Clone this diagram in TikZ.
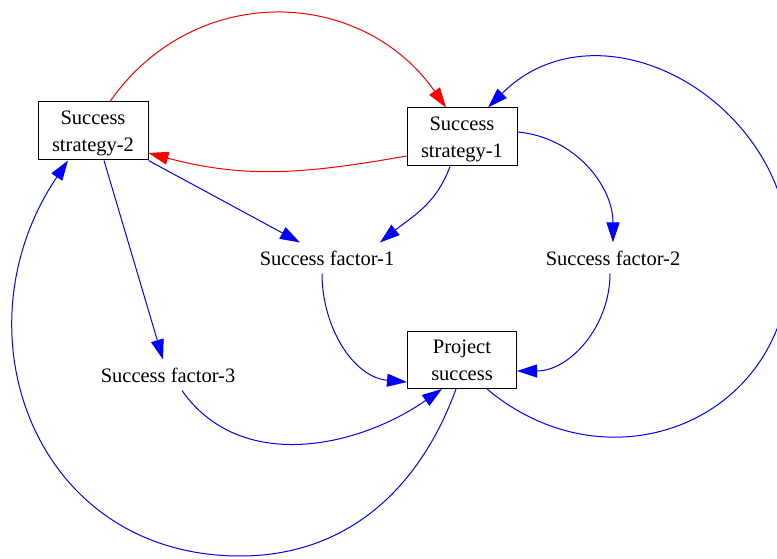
\documentclass[tikz,border=0pt]{standalone}
\usepackage{fontspec}
\setmainfont{Liberation Serif}
\usetikzlibrary{arrows.meta}

\begin{document}
\begin{tikzpicture}[
  x=1pt, y=1pt,
  box/.style={rectangle, draw, line width=1pt, minimum width=110pt, minimum height=58pt, align=center, inner sep=2pt, text depth=0pt},
  factor/.style={inner xsep=4pt, inner ysep=8pt},
  link/.style={->, blue, line width=1pt},
  backlink/.style={->, red, line width=1pt},
  >={Triangle[length=20pt,width=13pt]},
  font=\fontsize{20.5}{27}\selectfont
]
\useasboundingbox (0,0) rectangle (777,558);

\node[box] (s2) at (93,427) {Success\\strategy-2};
\node[box] (s1) at (462,421) {Success\\strategy-1};
\node[box, below of=s1, node distance=223pt, minimum width=109pt, minimum height=57pt] (ps) {Project\\success};

\node[factor] (f1) at (327,300) {Success factor-1};
\node[factor, right of=f1, node distance=286pt] (f2) {Success factor-2};
\node[factor] (f3) at (168,183) {Success factor-3};

\coordinate (rturn) at (790,300);
\coordinate (bturn) at (240,2);

\draw[backlink] ([xshift=17pt]s2.north) to[out=55,in=125,looseness=1.12] ([xshift=-16pt]s1.north);
\draw[backlink] ([yshift=-19pt]s1.west) to[out=190,in=-15] ([yshift=-22pt]s2.east);

\draw[link] (s2.south east) -- ([xshift=-27pt]f1.north);
\draw[link] ([xshift=11pt]s2.south) -- ([xshift=-5pt]f3.north);
\draw[link] ([xshift=-12pt]s1.south) to[out=-110,in=39] ([xshift=53pt]f1.north);
\draw[link] ([yshift=5pt]s1.east) to[out=-5,in=90] (f2.north);

\draw[link] ([xshift=-5pt]f1.south) to[out=-90,in=175] ([yshift=-22pt]ps.west);
\draw[link] ([xshift=-3pt]f2.south) to[out=-90,in=0] ([yshift=-11pt]ps.east);
\draw[link] ([xshift=14pt]f3.south) to[out=-55,in=215] ([xshift=-20pt]ps.south);

\draw[link] ([xshift=25pt]ps.south) to[out=-40,in=-90,looseness=1.25] (rturn)
  to[out=90,in=45,looseness=1.2] ([xshift=26pt]s1.north);
\draw[link] ([xshift=-6pt]ps.south) to[out=-110,in=0] (bturn)
  to[out=180,in=236,looseness=1.22] ([xshift=-25pt]s2.south);
\end{tikzpicture}
\end{document}
